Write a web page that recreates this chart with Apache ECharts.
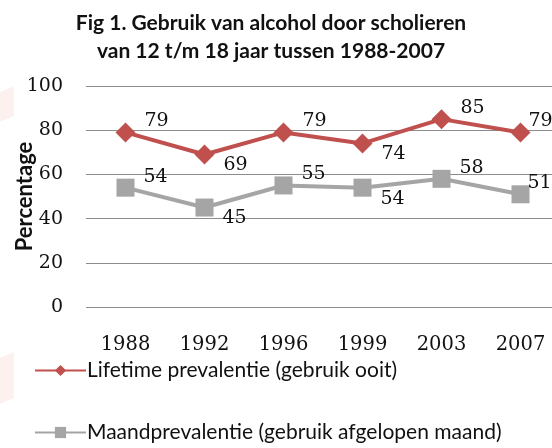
<!DOCTYPE html>
<html><head><meta charset="utf-8">
<script src="https://cdn.jsdelivr.net/npm/echarts@6/dist/echarts.min.js"></script>
<style>html,body{margin:0;padding:0;background:#fff}#c{width:552px;height:448px}</style>
</head><body><div id="c"></div>
<script>
const categories = ['1988','1992','1996','1999','2003','2007'];
const lifetime = [79, 69, 79, 74, 85, 79];
const monthly = [54, 45, 55, 54, 58, 51];
const yTicks = [0, 20, 40, 60, 80, 100];
const seriesNames = ['Lifetime prevalentie (gebruik ooit)', 'Maandprevalentie (gebruik afgelopen maand)'];
// label placement: 1 = above-right, -1 = below-right
const lifetimeLabelSide = [1, -1, 1, -1, 1, 1];
const monthlyLabelSide = [1, -1, 1, -1, 1, 1];

function withLabels(vals, sides){
  return vals.map((v,i)=>({value:v, label:{offset:[i===vals.length-1?-4:7, sides[i]>0?-11:11]}}));
}
const serif = 'DejaVu Serif';
const sans = 'Lato';
const chart = echarts.init(document.getElementById('c'), null, {renderer:'canvas'});
const legendText = {fontFamily:sans, fontSize:21, color:'#111', padding:[0,0,0,-4]};
chart.setOption({
  animation:false,
  backgroundColor:'#fff',
  graphic:[
    {type:'polygon', shape:{points:[[0,92],[14,86],[14,116],[0,122]]}, style:{fill:'#fdf1f0'}, silent:true},
    {type:'polygon', shape:{points:[[0,358],[14,352],[14,398],[0,404]]}, style:{fill:'#fdf1f0'}, silent:true}
  ],
  title:{text:'Fig 1. Gebruik van alcohol door scholieren\nvan 12 t/m 18 jaar tussen 1988-2007',
    left:266, textAlign:'center', top:4,
    textStyle:{fontFamily:sans, fontSize:21, fontWeight:'bold', color:'#111', lineHeight:28}},
  grid:{left:86, top:86, height:221, width:474, outerBoundsMode:'none', containLabel:false},
  legend:[
    {orient:'horizontal', left:29, top:355, itemWidth:51, itemHeight:14,
      textStyle:legendText, data:[seriesNames[0]]},
    {orient:'horizontal', left:29, top:417, itemWidth:51, itemHeight:14,
      textStyle:legendText, data:[seriesNames[1]]}
  ],
  xAxis:{type:'category', data:categories, boundaryGap:true,
    axisLine:{show:false}, axisTick:{show:false},
    axisLabel:{fontFamily:serif, fontSize:19.5, color:'#111', margin:28}},
  yAxis:{type:'value', min:yTicks[0], max:yTicks[yTicks.length-1], interval:20,
    name:'Percentage', nameLocation:'middle', nameGap:50, nameRotate:90, nameMoveOverlap:false,
    nameTextStyle:{fontFamily:sans, fontSize:22, fontWeight:'bold', color:'#111'},
    axisLabel:{fontFamily:serif, fontSize:19, color:'#111', margin:23},
    splitLine:{lineStyle:{color:'#8c8c8c', width:1}},
    axisLine:{show:false}, axisTick:{show:false}},
  series:[
    {name:seriesNames[0], type:'line', data:withLabels(lifetime, lifetimeLabelSide),
     symbol:'diamond', symbolSize:20, lineStyle:{color:'#C0504D', width:4},
     itemStyle:{color:'#C0504D'},
     label:{show:true, position:'right', distance:2, fontFamily:serif, fontSize:19, color:'#111'}},
    {name:seriesNames[1], type:'line', data:withLabels(monthly, monthlyLabelSide),
     symbol:'rect', symbolSize:18, lineStyle:{color:'#A5A5A5', width:4},
     itemStyle:{color:'#A5A5A5'},
     label:{show:true, position:'right', distance:2, fontFamily:serif, fontSize:19, color:'#111'}}
  ]
});
</script></body></html>
